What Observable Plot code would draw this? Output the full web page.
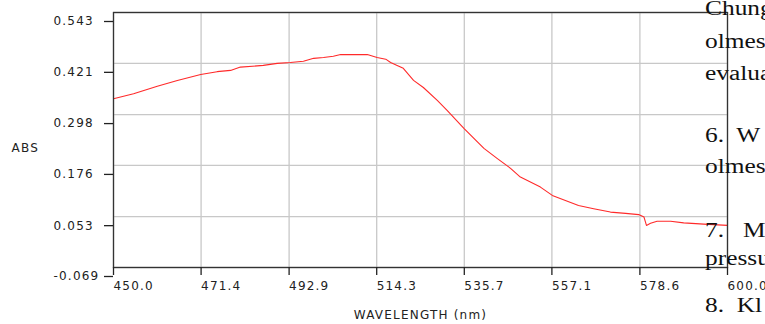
<!DOCTYPE html>
<html>
<head>
<meta charset="utf-8">
<script src="https://cdn.jsdelivr.net/npm/d3@7"></script>
<script src="https://cdn.jsdelivr.net/npm/@observablehq/plot@0.6"></script>
<style>
  html, body { margin: 0; padding: 0; background: #fff; overflow: hidden; }
  #wrap { position: relative; width: 765px; height: 324px; overflow: hidden; }
  #chart svg { display: block; }
  .doc { position: absolute; left: 0; top: 0; width: 765px; height: 324px; pointer-events: none; }
  .doc div { position: absolute; left: 705px; font-family: "Liberation Serif", serif; font-size: 20px; line-height: 20px; color: #111; white-space: pre; transform: scaleX(1.27); transform-origin: left center; }
</style>
</head>
<body>
<div id="wrap">
  <div id="chart"></div>
  <div class="doc" id="doc"></div>
</div>
<script>
const wavelengths = [450.0, 454.9, 460.7, 465.6, 471.3, 475.3, 478.6, 481.0, 486.6, 490.0, 493.2, 496.4, 498.9, 501.3, 503.7, 505.5, 508.6, 512.0, 514.4, 516.5, 517.7, 519.3, 520.8, 523.3, 525.7, 529.1, 531.5, 535.6, 540.5, 543.7, 547.0, 549.4, 554.3, 557.2, 560.4, 563.6, 567.3, 571.4, 575.1, 578.3, 579.6, 580.2, 581.2, 582.8, 586.1, 589.3, 594.2, 600.0];
const absorbance = [0.336, 0.348, 0.366, 0.380, 0.394, 0.401, 0.404, 0.412, 0.416, 0.421, 0.423, 0.426, 0.433, 0.435, 0.438, 0.442, 0.442, 0.442, 0.435, 0.431, 0.423, 0.416, 0.409, 0.380, 0.363, 0.332, 0.308, 0.265, 0.217, 0.193, 0.169, 0.148, 0.124, 0.104, 0.092, 0.080, 0.072, 0.064, 0.061, 0.058, 0.052, 0.032, 0.037, 0.042, 0.042, 0.038, 0.035, 0.032];
const xTicks = [450.0, 471.4, 492.9, 514.3, 535.7, 557.1, 578.6, 600.0];
const xTickLabels = ["450.0", "471.4", "492.9", "514.3", "535.7", "557.1", "578.6", "600.0"];
const yTicks = [0.543, 0.421, 0.298, 0.176, 0.053, -0.069];
const yTickLabels = ["0.543", "0.421", "0.298", "0.176", "0.053", "-0.069"];
const yLabel = "ABS";
const xLabel = "WAVELENGTH (nm)";
const docLines = [
  {text: "Chung", top: -2},
  {text: "olmes", top: 31},
  {text: "evalua", top: 63},
  {text: "6.  W", top: 125},
  {text: "olmes", top: 156},
  {text: "7.   M", top: 220},
  {text: "pressu", top: 248},
  {text: "8.  Kl", top: 295}
];

const data = wavelengths.map((w, i) => ({w, a: absorbance[i]}));
const gridStyle = {stroke: "#c8c8c8", strokeOpacity: 1, strokeWidth: 1.3};

const chart = Plot.plot({
  width: 765,
  height: 324,
  marginLeft: 113,
  marginRight: 38,
  marginTop: 12,
  marginBottom: 57,
  x: {domain: [450, 600]},
  y: {domain: [-0.069, 0.543]},
  style: {fontFamily: "DejaVu Sans, sans-serif", fontSize: "12px", letterSpacing: "1.2px", color: "#222", background: "transparent"},
  marks: [
    Plot.gridX(xTicks, gridStyle),
    Plot.gridY(yTicks, gridStyle),
    Plot.line(data, {x: "w", y: "a", stroke: "#ff2a2a", strokeWidth: 1.1}),
    Plot.frame({stroke: "#333", strokeWidth: 1.3}),
    Plot.axisX(xTicks, {tickSize: 8, tickPadding: 6, textAnchor: "start", tickFormat: (d, i) => xTickLabels[i], label: null, strokeWidth: 1.3}),
    Plot.axisY(yTicks, {tickSize: 9, tickPadding: 51, textAnchor: "start", dy: 9, tickFormat: (d, i) => yTickLabels[i], label: null, strokeWidth: 1.3}),
    Plot.text([yLabel], {frameAnchor: "left", dx: -102, dy: 8, textAnchor: "start", fill: "#222"}),
    Plot.text([xLabel], {frameAnchor: "bottom", dy: 48, lineAnchor: "middle", fill: "#222"})
  ]
});
document.getElementById("chart").appendChild(chart);

const doc = document.getElementById("doc");
for (const l of docLines) {
  const d = document.createElement("div");
  d.textContent = l.text;
  d.style.top = l.top + "px";
  doc.appendChild(d);
}
</script>
</body>
</html>
